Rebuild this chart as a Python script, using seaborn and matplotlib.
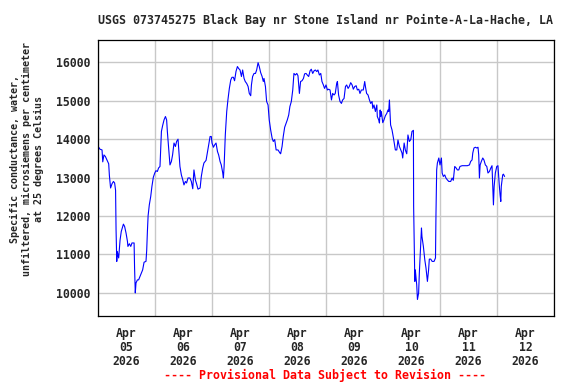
import matplotlib
matplotlib.use("Agg")
import matplotlib.pyplot as plt
import matplotlib.dates as mdates
import numpy as np
import pandas as pd
import seaborn as sns

# hours after 2026-04-05 00:00
hours = [
    0.3, 0.8, 1.7, 2.0, 2.5, 3.1, 3.9, 4.5, 4.8, 5.3, 5.9, 6.5, 7.0, 7.4, 7.6, 7.9, 8.1, 8.7, 9.3, 9.8,
    10.7, 11.2, 11.8, 12.4, 12.6, 13.2, 13.8, 14.3, 15.2, 15.4, 15.7, 16.0, 16.6, 17.1, 17.7, 18.3, 18.8, 19.4,
    20.2, 20.5, 20.8, 21.1, 21.6, 22.2, 22.7, 23.3, 23.9, 24.4, 25.0, 25.5, 26.1, 26.4, 26.7, 27.2, 27.8, 28.4,
    28.9, 29.2, 29.8, 30.3, 30.9, 31.4, 32.0, 32.6, 33.1, 33.7, 34.0, 34.5, 35.1, 35.7, 36.2, 36.8, 37.3, 37.9,
    38.7, 39.3, 39.9, 40.1, 40.4, 41.0, 41.5, 42.1, 43.0, 43.5, 44.1, 44.6, 45.5, 46.0, 46.6, 47.2, 47.7, 48.0,
    48.6, 49.1, 49.7, 50.3, 50.8, 51.4, 51.9, 52.5, 52.8, 53.1, 53.3, 53.6, 54.2, 54.7, 55.3, 55.9, 56.4, 57.0,
    57.5, 58.1, 58.7, 59.2, 59.8, 60.4, 60.9, 61.5, 62.0, 62.6, 63.2, 63.7, 64.3, 64.6, 65.1, 65.7, 66.3, 66.8,
    67.4, 67.9, 68.5, 69.1, 69.6, 69.9, 70.5, 71.0, 71.6, 72.1, 72.7, 73.3, 73.8, 74.4, 75.0, 75.8, 76.6, 76.9,
    77.5, 78.0, 78.6, 79.2, 79.7, 80.3, 80.8, 81.4, 82.0, 82.5, 83.1, 83.7, 84.2, 84.8, 85.3, 85.9, 86.5, 87.0,
    87.6, 88.1, 88.7, 89.3, 89.8, 90.4, 91.0, 91.5, 92.1, 92.6, 93.2, 93.8, 94.3, 94.9, 95.4, 96.0, 96.6, 97.1,
    97.7, 98.3, 98.8, 99.4, 99.9, 100.5, 100.8, 101.3, 101.9, 102.5, 103.0, 103.6,
    104.2, 104.7, 105.3, 105.8, 106.4, 107.0, 107.5, 108.1, 108.7, 109.2, 109.8, 110.3, 110.9, 111.7, 112.3,
    112.6, 113.1, 113.7, 114.3, 114.8, 115.4, 115.7, 116.2, 116.8, 117.4, 117.6, 118.2, 118.5, 118.8, 119.0,
    119.3, 119.9, 120.4, 121.0, 121.6, 122.1, 122.4, 122.7, 123.0, 123.2, 123.8, 124.4, 124.9, 125.2, 125.8,
    126.3, 126.9, 127.5, 128.0, 128.3, 128.9, 129.4, 130.0, 130.5, 131.1, 131.7, 132.2, 132.8, 132.9, 133.4,
    133.6, 133.9, 134.2, 134.5, 135.0, 135.3, 135.9, 136.2, 136.4, 137.0, 137.6, 138.1, 138.7, 139.2, 139.5,
    140.1, 140.7, 141.5, 142.1, 142.3, 142.6, 142.9, 143.5, 144.0, 144.6, 144.9, 145.4, 146.0, 146.5, 147.1,
    147.7, 148.5, 149.1, 149.6, 150.2, 150.8, 151.3, 151.9, 152.4, 153.3, 154.4, 155.5, 156.4, 156.9, 157.5,
    157.8, 158.3, 158.9, 159.5, 160.0, 160.3, 160.6, 160.9, 161.4, 162.0, 162.5, 163.1, 163.7, 164.2, 164.8,
    165.4, 165.9, 166.2, 166.5, 166.8, 167.3, 167.9, 168.4, 169.0, 169.3, 169.6, 169.8, 170.4, 170.7, 171.2,
]

conductance = [
    13790, 13740, 13720, 13410, 13590, 13550, 13445, 13360, 13050, 12730, 12840, 12900, 12860, 12670, 11650,
    10820, 11080, 10910, 11380, 11600, 11790, 11730, 11560, 11340, 11210, 11280, 11210, 11300, 11300, 10650,
    10000, 10260, 10340, 10340, 10430, 10520, 10600, 10800, 10820, 11100, 11600, 12010, 12290, 12510, 12770,
    13010, 13120, 13180, 13160, 13250, 13290, 13720, 14200, 14350, 14500, 14590, 14500, 14200, 13720, 13330,
    13420, 13590, 13900, 13810, 13940, 14000, 13720, 13290, 13070, 12940, 12810, 12900, 12860, 12990, 12990,
    12900, 12710, 12900, 13200, 12940, 12840, 12700, 12730, 13030, 13250, 13380, 13450, 13640, 13850, 14070,
    14070, 13900, 13790, 13850, 13900, 13680, 13590, 13420, 13330, 13130, 12990, 13290, 13640, 14110, 14720,
    15020, 15320, 15540, 15610, 15610, 15520, 15760, 15890, 15840, 15800, 15630, 15800, 15580, 15500, 15450,
    15370, 15190, 15130, 15410, 15630, 15710, 15710, 15800, 15990, 15890, 15730, 15630, 15500, 15580, 15370,
    14980, 14890, 14500, 14240, 14030, 13940, 13990, 13720, 13720, 13640, 13620, 13810, 14070, 14310, 14410,
    14500, 14630, 14850, 14980, 15280, 15710, 15670, 15710, 15650, 15190, 15500, 15520, 15580, 15700, 15710,
    15670, 15630, 15780, 15820, 15710, 15780, 15800, 15760, 15800, 15670, 15710, 15500, 15410, 15320, 15410,
    15280, 15300, 15280, 15020, 15190, 15150, 15190, 15450, 15500, 15150, 14980, 14930, 15020, 15060,
    15370, 15410, 15320, 15370, 15470, 15410, 15300, 15370, 15390, 15280, 15300, 15190, 15280, 15280, 15500,
    15370, 15190, 15150, 15020, 14930, 14980, 14800, 14890, 14720, 14890, 14590, 14500, 14420, 14760, 14590,
    14720, 14430, 14500, 14610, 14670, 14760, 14720, 15020, 14630, 14370, 14240, 14030, 13830, 13720, 13720,
    13980, 13810, 13720, 13640, 13510, 13900, 13720, 13620, 14110, 13940, 13990, 14200, 14230, 12250, 10300,
    10600, 10390, 10210, 9830, 10000, 10520, 11300, 11690, 11470, 11210, 10860, 10650, 10300, 10600, 10880,
    10880, 10820, 10820, 10910, 12030, 13200, 13380, 13510, 13330, 13510, 13120, 13030, 13070, 12990, 12940,
    12900, 12900, 12990, 12930, 13290, 13250, 13200, 13200, 13290, 13310, 13310, 13310, 13330, 13420, 13460,
    13640, 13770, 13790, 13770, 13790, 13590, 12990, 13330, 13420, 13510, 13460, 13330, 13290, 13120, 13160,
    13250, 13310, 12810, 12290, 12770, 13120, 13290, 13310, 12770, 12550, 12380, 12770, 13070, 13090, 13030,
]

day_labels = ["Apr\n05\n2026", "Apr\n06\n2026", "Apr\n07\n2026", "Apr\n08\n2026",
              "Apr\n09\n2026", "Apr\n10\n2026", "Apr\n11\n2026", "Apr\n12\n2026"]
y_ticks = [10000, 11000, 12000, 13000, 14000, 15000, 16000]

start = pd.Timestamp("2026-04-05")
df = pd.DataFrame({
    "time": start + pd.to_timedelta(hours, unit="h"),
    "value": conductance,
})

sns.set_style("white")
plt.rcParams['font.family'] = ['DejaVu Sans Mono']
plt.rcParams['font.weight'] = 'bold'

fig = plt.figure(figsize=(5.76, 3.84), dpi=100)
ax = fig.add_axes([98 / 576, 1 - 316 / 384, 456 / 576, 276 / 384])

sns.lineplot(data=df, x="time", y="value", color="#0000ff", linewidth=0.8, ax=ax)

ax.set_xlim(start, start + pd.Timedelta(days=8))
ax.set_ylim(9400, 16580)

# labels at noon, grid at midnight
noons = [start + pd.Timedelta(hours=12 + 24 * i) for i in range(8)]
ax.set_xticks(noons)
ax.set_xticklabels(day_labels, fontsize=8.3, linespacing=1.1)
ax.xaxis.set_minor_locator(mdates.DayLocator())
ax.tick_params(axis="x", which="major", length=0, pad=8)
ax.tick_params(axis="x", which="minor", length=0)
ax.grid(True, axis="x", which="minor", color="#c8c8c8", linewidth=1.0)

ax.set_yticks(y_ticks)
ax.set_yticklabels([str(v) for v in y_ticks], fontsize=8.3)
ax.tick_params(axis="y", length=0, pad=5.5)
ax.grid(True, axis="y", color="#c8c8c8", linewidth=1.0)

for s in ax.spines.values():
    s.set_color("black")
    s.set_linewidth(0.9)

ax.set_xlabel("")
ax.set_ylabel("")

fig.text(0.565, 1 - 20 / 384, "USGS 073745275 Black Bay nr Stone Island nr Pointe-A-La-Hache, LA",
         ha="center", va="center", fontsize=8.4, fontweight="bold")
fig.text(0.047, 1 - 159 / 384,
         "Specific conductance, water,\nunfiltered, microsiemens per centimeter\nat 25 degrees Celsius",
         ha="center", va="center", rotation=90, fontsize=7.2, fontweight="bold", linespacing=1.25)
fig.text(0.565, 1 - 375 / 384, "---- Provisional Data Subject to Revision ----",
         ha="center", va="center", fontsize=8.4, fontweight="bold", color="#ff0000")

fig.savefig("out.png", dpi=100)
